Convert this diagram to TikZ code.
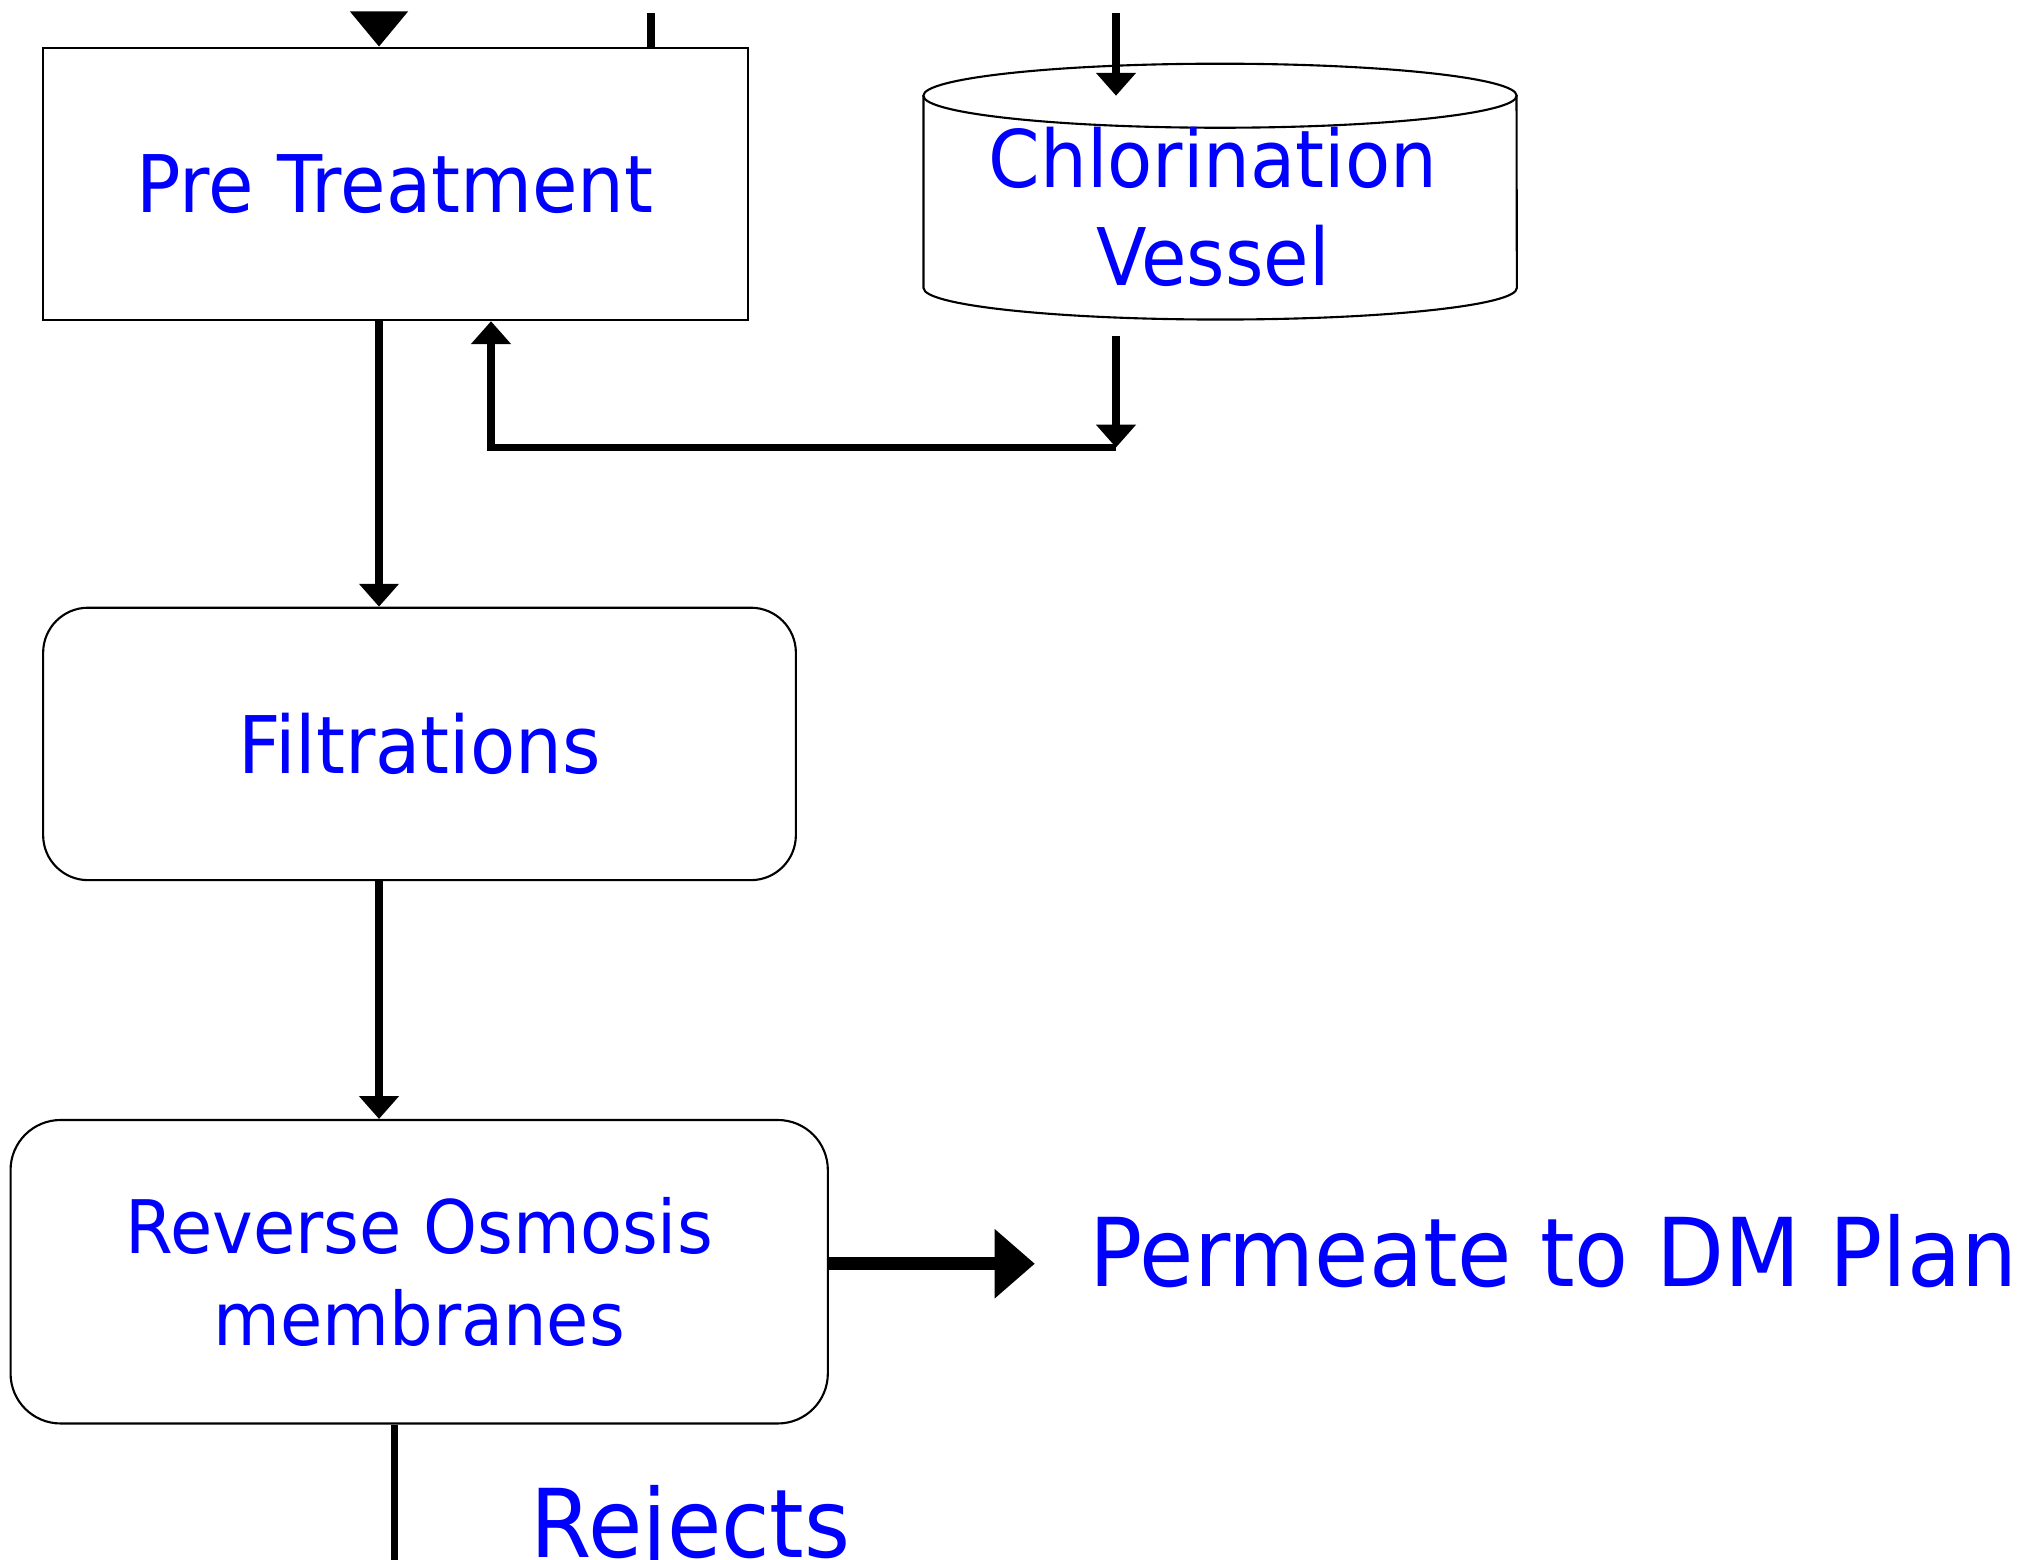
\documentclass[tikz,border=0pt]{standalone}
\usepackage{fontspec}
\setmainfont{DejaVu Sans}[FakeStretch=0.93]
\usetikzlibrary{arrows.meta}
\definecolor{labelblue}{RGB}{0,0,255}

\begin{document}
\begin{tikzpicture}[x=0.01cm,y=-0.01cm,
  unit/.style={draw,line width=0.6pt,text=labelblue,inner sep=0pt,font=\fontsize{22.6}{28}\selectfont},
  stage/.style={unit,rounded corners=0.45cm},
  pipe/.style={line width=2.1pt},
  feed/.style={pipe,-{Triangle[length=6.5pt,width=11pt]}},
  outtext/.style={text=labelblue,inner sep=0pt,font=\fontsize{27}{32}\selectfont}]
  \useasboundingbox (0,0) rectangle (2028,1559);
  \clip (0,0) rectangle (2028,1559);
  % process units
  \node[unit,minimum width=7.045cm,minimum height=2.723cm] (pre) at (395.2,183.9) {Pre Treatment};
  \node[stage,minimum width=7.523cm,minimum height=2.723cm] (filt) at (419.5,743.9) {Filtrations};
  \node[stage,rounded corners=0.5cm,minimum width=8.168cm,minimum height=3.033cm,
        align=center,font=\fontsize{21}{26.3}\selectfont] (ro) at (419.2,1271.7) {Reverse Osmosis\\membranes};
  % chlorination vessel
  \draw[line width=0.6pt] (1220,95.7) ellipse [x radius=2.965cm,y radius=0.32cm];
  \draw[line width=0.6pt] (923.5,95.7) -- (923.5,288)
    arc[start angle=180,end angle=360,x radius=2.965cm,y radius=0.315cm] -- (1516.5,95.7);
  \node[text=labelblue,align=center,inner sep=0pt,font=\fontsize{22.6}{28}\selectfont] (vessel) at (1213,206.9) {Chlorination\\Vessel};
  % pipe ends
  \coordinate (feedA) at (379,13);
  \coordinate (feedB) at (651,13);
  \coordinate (dose) at (1116,13);
  \coordinate (vtop) at (1116,95.7);
  \coordinate (vout) at (1116,336);
  \coordinate (vret) at (1116,447.5);
  \coordinate (ret) at (491,447.5);
  \coordinate (drain) at (394.5,1575);
  \coordinate (permtip) at (1034.8,1263.7);
  % flows
  \draw[pipe,-{Triangle[length=10pt,width=16pt]}] (feedA) -- (feedA |- pre.north);
  \draw[pipe] (feedB) -- (feedB |- pre.north);
  \draw[feed] (dose) -- (vtop);
  \draw[feed] (vout) -- (vret);
  \draw[feed] (vret) -- (ret) -- (ret |- pre.south);
  \draw[feed] (feedA |- pre.south) -- (feedA |- filt.north);
  \draw[feed] (feedA |- filt.south) -- (feedA |- ro.north);
  \draw[line width=3.6pt,-{Triangle[length=11.4pt,width=19pt]}] (ro.east |- permtip) -- (permtip);
  \draw[pipe] (drain |- ro.south) -- (drain);
  % outlet labels
  \node[outtext,anchor=base west] (perm) at (1089,1286.7) {Permeate to DM Plan};
  \node[outtext,anchor=base west] (rej) at (530,1557) {Rejects};
\end{tikzpicture}
\end{document}
